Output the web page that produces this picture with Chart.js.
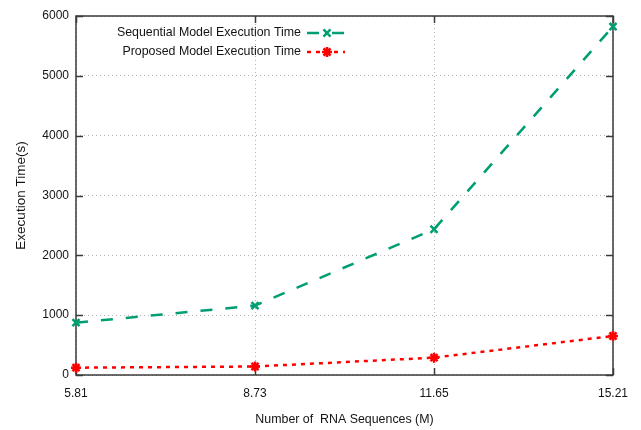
<!DOCTYPE html>
<html>
<head>
<meta charset="utf-8">
<script src="https://cdn.jsdelivr.net/npm/chart.js@4/dist/chart.umd.min.js"></script>
<style>
  html, body { margin: 0; background: #fff; }
</style>
</head>
<body>
<canvas id="chart" width="641" height="430"></canvas>
<script>
// data
const labels = ["5.81", "8.73", "11.65", "15.21"];
const sequentialTime = [875, 1160, 2436, 5824];
const proposedTime = [122, 142, 290, 652];
const yMin = 0, yMax = 6000, yStep = 1000;

const FONT = "'Liberation Sans', Arial, sans-serif";
const TXT = "#141414";

// gnuplot-like frame: box round the plot with inward ticks on all four sides
const frame = {
  id: "frame",
  beforeDatasetsDraw(chart) {
    const { ctx, chartArea: a, scales: { x, y } } = chart;
    ctx.save();
    ctx.strokeStyle = "#3a3a3a";
    ctx.lineWidth = 1.5;
    ctx.beginPath();
    for (let v = yMin; v <= yMax; v += yStep) {
      const py = Math.round(y.getPixelForValue(v)) + 0.5;
      ctx.moveTo(a.left, py); ctx.lineTo(a.left + 7, py);
      ctx.moveTo(a.right, py); ctx.lineTo(a.right - 7, py);
    }
    labels.forEach((_, i) => {
      const px = Math.round(x.getPixelForValue(i)) + 0.5;
      ctx.moveTo(px, a.bottom); ctx.lineTo(px, a.bottom - 7);
      ctx.moveTo(px, a.top); ctx.lineTo(px, a.top + 7);
    });
    ctx.stroke();
    ctx.strokeRect(a.left, a.top, a.right - a.left, a.bottom - a.top);
    ctx.restore();
  },
  // key in the top-left corner: text right-aligned, sample to its right
  afterDraw(chart) {
    const { ctx } = chart;
    const rows = [33, 52];
    ctx.save();
    chart.data.datasets.forEach((ds, i) => {
      const yy = rows[i];
      ctx.font = "12.4px " + FONT;
      ctx.fillStyle = TXT;
      ctx.textAlign = "right";
      ctx.textBaseline = "middle";
      ctx.fillText(ds.label, 301, yy);
      ctx.strokeStyle = ds.borderColor;
      ctx.lineWidth = ds.borderWidth;
      ctx.setLineDash(ds.borderDash);
      ctx.beginPath();
      ctx.moveTo(307, yy); ctx.lineTo(345, yy);
      ctx.stroke();
      ctx.setLineDash([]);
      ctx.fillStyle = ds.pointBackgroundColor;
      ctx.lineWidth = ds.pointBorderWidth;
      Chart.helpers.drawPoint(ctx, {
        pointStyle: ds.pointStyle, rotation: 0,
        radius: ds.pointRadius, borderWidth: ds.pointBorderWidth
      }, 327, yy);
    });
    ctx.restore();
  }
};

const ctx = document.getElementById("chart").getContext("2d");
const chart = new Chart(ctx, {
  type: "line",
  data: {
    labels: labels,
    datasets: [
      { label: "Sequential Model Execution Time", data: sequentialTime,
        borderColor: "#009e73", backgroundColor: "#009e73", borderWidth: 2.5,
        borderDash: [12, 13], tension: 0,
        pointStyle: "crossRot", pointRadius: 5, pointBorderWidth: 2.5,
        pointBorderColor: "#009e73", pointBackgroundColor: "#009e73" },
      { label: "Proposed Model Execution Time", data: proposedTime,
        borderColor: "#ff0000", backgroundColor: "#ff0000", borderWidth: 2.5,
        borderDash: [4, 5], tension: 0,
        pointStyle: "star", pointRadius: 5, pointBorderWidth: 2.5,
        pointBorderColor: "#ff0000", pointBackgroundColor: "#ff0000" }
    ]
  },
  options: {
    responsive: false,
    animation: false,
    layout: { padding: { top: 16, right: 28, left: 0, bottom: 0 } },
    plugins: { legend: { display: false }, tooltip: { enabled: false } },
    scales: {
      x: {
        offset: false,
        grid: { color: "#b4b4b4", drawTicks: false },
        border: { display: false, dash: [1, 3] },
        ticks: { color: TXT, font: { family: FONT, size: 12 }, padding: 11, maxRotation: 0 },
        title: { display: true, text: "Number of  RNA Sequences (M)", color: TXT,
                 font: { family: FONT, size: 12.4 }, padding: { top: 0, bottom: 3 } },
        afterFit: s => { s.height = 55; }
      },
      y: {
        min: yMin, max: yMax,
        grid: { color: "#b4b4b4", drawTicks: false },
        border: { display: false, dash: [1, 3] },
        ticks: { stepSize: yStep, color: TXT, font: { family: FONT, size: 12 }, padding: 7,
                 callback: v => String(v) },
        title: { display: true, text: "Execution Time(s)", color: TXT,
                 font: { family: FONT, size: 13.5 }, padding: { top: 13, bottom: 0 } },
        afterFit: s => { s.width = 76; }
      }
    }
  },
  plugins: [frame]
});
</script>
</body>
</html>
